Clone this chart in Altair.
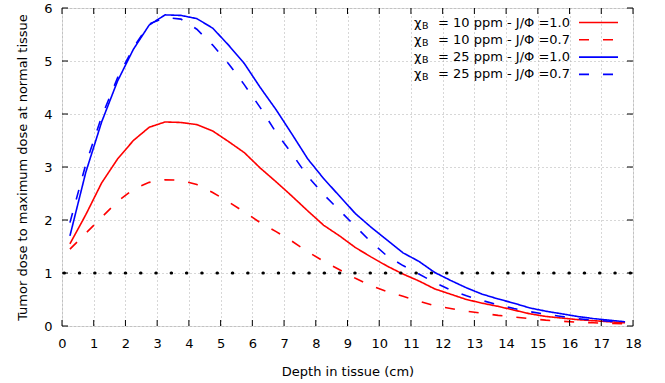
import altair as alt
import pandas as pd

depth = [0.25, 0.75, 1.25, 1.75, 2.25, 2.75, 3.25, 3.75, 4.25, 4.75, 5.25, 5.75,
         6.25, 6.75, 7.25, 7.75, 8.25, 8.75, 9.25, 9.75, 10.25, 10.75, 11.25, 11.75,
         12.25, 12.75, 13.25, 13.75, 14.25, 14.75, 15.25, 15.75, 16.25, 16.75, 17.25, 17.75]

r10 = [1.55, 2.1, 2.7, 3.15, 3.5, 3.75, 3.85, 3.84, 3.8, 3.68, 3.48, 3.27,
       2.98, 2.72, 2.45, 2.17, 1.9, 1.7, 1.48, 1.3, 1.13, 0.98, 0.85, 0.7,
       0.6, 0.5, 0.43, 0.37, 0.3, 0.23, 0.18, 0.15, 0.12, 0.1, 0.08, 0.06]
r07 = [1.45, 1.75, 2.05, 2.35, 2.58, 2.71, 2.76, 2.75, 2.67, 2.52, 2.34, 2.15,
       1.95, 1.78, 1.6, 1.4, 1.22, 1.06, 0.9, 0.76, 0.65, 0.56, 0.47, 0.38,
       0.33, 0.28, 0.24, 0.2, 0.17, 0.14, 0.11, 0.09, 0.07, 0.06, 0.05, 0.04]
b10 = [1.7, 2.9, 3.85, 4.62, 5.22, 5.68, 5.87, 5.86, 5.8, 5.62, 5.3, 4.95,
       4.5, 4.08, 3.62, 3.15, 2.78, 2.45, 2.12, 1.86, 1.62, 1.38, 1.22, 1.01,
       0.86, 0.72, 0.6, 0.51, 0.43, 0.34, 0.28, 0.23, 0.18, 0.14, 0.11, 0.08]
b07 = [1.95, 3.05, 3.95, 4.68, 5.25, 5.7, 5.82, 5.79, 5.6, 5.3, 4.95, 4.55,
       4.12, 3.65, 3.25, 2.82, 2.48, 2.18, 1.88, 1.58, 1.32, 1.14, 0.98, 0.82,
       0.68, 0.57, 0.48, 0.4, 0.33, 0.27, 0.22, 0.18, 0.14, 0.11, 0.09, 0.07]

series_names = ["= 10 ppm - J/Φ =1.0", "= 10 ppm - J/Φ =0.7", "= 25 ppm - J/Φ =1.0", "= 25 ppm - J/Φ =0.7"]
series_values = [r10, r07, b10, b07]
series_colors = ["#ff0000", "#ff0000", "#0000ff", "#0000ff"]
series_dash = [[1, 0], [10, 14], [1, 0], [10, 14]]

x_ticks = list(range(0, 19))
y_ticks = list(range(0, 7))
reference_level = 1

W, H = 571, 318
FONT = "DejaVu Sans"
FS = 13

rows = []
for name, vals in zip(series_names, series_values):
    for d, v in zip(depth, vals):
        rows.append({"depth": d, "value": v, "series": name})
df = pd.DataFrame(rows)

xscale = alt.Scale(domain=[0, 18], nice=False, zero=False)
yscale = alt.Scale(domain=[0, 6], nice=False)

common_axis = dict(grid=True, gridDash=[1, 3], gridColor="#999999", gridWidth=0.8,
                   ticks=False, domain=False, labelFontSize=FS, titleFontSize=FS,
                   labelColor="black", titleColor="black", titleFontWeight="normal",
                   labelFont=FONT, titleFont=FONT, labelOverlap=False, labelFlush=False)
xaxis = alt.Axis(values=x_ticks, title="Depth in tissue (cm)",
                 labelPadding=11, titlePadding=15, **common_axis)
yaxis = alt.Axis(values=y_ticks, title="Tumor dose to maximum dose at normal tissue",
                 labelPadding=10, titlePadding=14, **common_axis)

lines = alt.Chart(df).mark_line(strokeWidth=1.6, clip=True).encode(
    x=alt.X("depth:Q", scale=xscale, axis=xaxis),
    y=alt.Y("value:Q", scale=yscale, axis=yaxis),
    color=alt.Color("series:N", scale=alt.Scale(domain=series_names, range=series_colors), legend=None),
    strokeDash=alt.StrokeDash("series:N", scale=alt.Scale(domain=series_names, range=series_dash), legend=None),
)

ref = alt.Chart(pd.DataFrame({"value": [reference_level]})).mark_rule(
    color="black", strokeWidth=3, strokeDash=[0.5, 14.8], strokeCap="round"
).encode(x=alt.value(2), x2=alt.value(W), y=alt.Y("value:Q", scale=yscale, axis=yaxis))

tx = pd.DataFrame({"depth": x_ticks})
ty = pd.DataFrame({"value": y_ticks})
TL = 6
ticks_bottom = alt.Chart(tx).mark_rule(color="black", strokeWidth=1).encode(
    x=alt.X("depth:Q", scale=xscale, axis=xaxis), y=alt.value(H), y2=alt.value(H - TL))
ticks_top = alt.Chart(tx).mark_rule(color="black", strokeWidth=1).encode(
    x=alt.X("depth:Q", scale=xscale, axis=xaxis), y=alt.value(0), y2=alt.value(TL))
ticks_left = alt.Chart(ty).mark_rule(color="black", strokeWidth=1).encode(
    y=alt.Y("value:Q", scale=yscale, axis=yaxis), x=alt.value(0), x2=alt.value(TL))
ticks_right = alt.Chart(ty).mark_rule(color="black", strokeWidth=1).encode(
    y=alt.Y("value:Q", scale=yscale, axis=yaxis), x=alt.value(W), x2=alt.value(W - TL))

one = pd.DataFrame({"a": [0]})
legend_layers = []
for i, (name, color, dash) in enumerate(zip(series_names, series_colors, series_dash)):
    yy = 14.5 + i * 17.3
    legend_layers.append(alt.Chart(one).mark_rule(color=color, strokeDash=dash, strokeWidth=1.6).encode(
        x=alt.value(517), x2=alt.value(556), y=alt.value(yy)))
    legend_layers.append(alt.Chart(one).mark_text(align="right", baseline="middle", fontSize=FS,
                                                   font=FONT, color="black").encode(
        x=alt.value(508), y=alt.value(yy), text=alt.value(name)))
    legend_layers.append(alt.Chart(one).mark_text(align="left", baseline="middle", fontSize=FS,
                                                   font=FONT, color="black").encode(
        x=alt.value(352), y=alt.value(yy), text=alt.value("χ")))
    legend_layers.append(alt.Chart(one).mark_text(align="left", baseline="middle", fontSize=9.5,
                                                   font=FONT, color="black").encode(
        x=alt.value(360), y=alt.value(yy + 3), text=alt.value("B")))

chart = alt.layer(lines, ref, ticks_bottom, ticks_top, ticks_left, ticks_right, *legend_layers).properties(
    width=W, height=H,
    autosize=alt.AutoSizeParams(type="none"),
    padding={"left": 62, "top": 8, "right": 32, "bottom": 57},
).configure_view(stroke="black", strokeWidth=1.2).configure(background="white")

chart.save("out.html", embed_options={"renderer": "svg", "actions": False})
